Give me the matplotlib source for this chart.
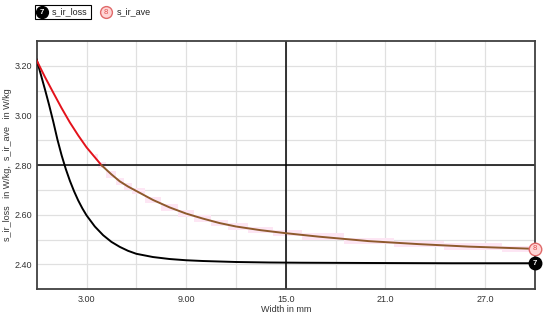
import matplotlib
matplotlib.use("Agg")
import matplotlib.pyplot as plt
import numpy as np

plt.rcParams['font.family'] = ['Liberation Sans', 'DejaVu Sans']

# data
width_loss = [0, 0.25, 0.5, 0.75, 1, 1.25, 1.5, 1.75, 2, 2.25, 2.5, 2.75, 3, 3.5, 4, 4.5,
              5, 5.5, 6, 7, 8, 9, 10, 11, 12, 14, 16, 20, 25, 30]
s_ir_loss = [3.225, 3.165, 3.105, 3.042, 2.975, 2.903, 2.840, 2.785, 2.737, 2.695, 2.658,
             2.626, 2.598, 2.553, 2.518, 2.491, 2.471, 2.455, 2.443, 2.430, 2.422, 2.417,
             2.414, 2.412, 2.410, 2.408, 2.407, 2.406, 2.405, 2.405]
width_ave = [0, 0.5, 1, 1.5, 2, 2.5, 3, 3.5, 3.9, 4.5, 5, 5.5, 6, 7, 8, 9, 10, 11, 12,
             13.5, 15, 17, 20, 23, 26, 30]
s_ir_ave = [3.222, 3.155, 3.092, 3.030, 2.972, 2.920, 2.872, 2.832, 2.800, 2.763, 2.735,
            2.714, 2.696, 2.660, 2.630, 2.605, 2.585, 2.567, 2.553, 2.538, 2.526, 2.512,
            2.494, 2.482, 2.472, 2.463]
red_split = 8  # index where the line turns from red to brown

xticks = [3, 9, 15, 21, 27]
xtick_labels = ["3.00", "9.00", "15.0", "21.0", "27.0"]
yticks = [2.40, 2.60, 2.80, 3.00, 3.20]
ytick_labels = ["2.40", "2.60", "2.80", "3.00", "3.20"]
legend_names = ["s_ir_loss", "s_ir_ave"]
legend_ids = ["7", "8"]

fig = plt.figure(figsize=(5.5, 3.16), dpi=100)
ax = fig.add_axes([0.0667, 0.0845, 0.906, 0.7855])
ax.set_xlim(0, 30)
ax.set_ylim(2.30, 3.30)

# grid
for gx in np.arange(3, 30, 3):
    ax.axvline(gx, color='#e0e0e0', lw=0.9, zorder=0)
for gy in np.arange(2.4, 3.3, 0.1):
    ax.axhline(gy, color='#e0e0e0', lw=0.9, zorder=0)

# crosshair
ax.axvline(15, color='black', lw=1.1, zorder=2)
ax.axhline(2.80, color='black', lw=1.1, zorder=2)

# pink highlight band
xa = np.array(width_ave[red_split - 1:])
ya = np.array(s_ir_ave[red_split - 1:])
ax.fill_between(xa, ya - 0.013, ya + 0.013, step='mid', color='#fde6f4', lw=0, zorder=1)

# curves
ax.plot(width_loss, s_ir_loss, color='black', lw=1.4, zorder=3)
ax.plot(width_ave[:red_split + 1], s_ir_ave[:red_split + 1], color='#e3121b', lw=1.4, zorder=3)
ax.plot(width_ave[red_split:], s_ir_ave[red_split:], color='#8e5a2c', lw=1.4, zorder=3)

# end markers
ax.plot([width_ave[-1]], [s_ir_ave[-1]], 'o', ms=9, mfc='#ffd6d6', mec='#e06a6a', mew=1.0,
        clip_on=False, zorder=5)
ax.text(width_ave[-1], s_ir_ave[-1], legend_ids[1], color='#e05050', fontsize=5.5,
        ha='center', va='center', zorder=6, clip_on=False)
ax.plot([width_loss[-1]], [s_ir_loss[-1]], 'o', ms=9, mfc='black', mec='black',
        clip_on=False, zorder=5)
ax.text(width_loss[-1], s_ir_loss[-1], legend_ids[0], color='white', fontsize=5.5,
        fontweight='bold', ha='center', va='center', zorder=6, clip_on=False)

# axes styling
for s in ax.spines.values():
    s.set_color('#404040')
    s.set_linewidth(1.3)
ax.set_xticks(xticks)
ax.set_xticklabels(xtick_labels)
ax.set_yticks(yticks)
ax.set_yticklabels(ytick_labels)
ax.tick_params(axis='x', length=0, labelsize=6.5, colors='#333333', pad=4)
ax.tick_params(axis='y', length=0, labelsize=6.5, colors='#333333', pad=3)
ax.set_xlabel("Width in mm", fontsize=6.5, color='#333333', labelpad=1)

# legend / labels in figure pixels
def fx(px):
    return px / 550.0

def fy(py):
    return 1 - py / 316.0

fig.text(fx(8), fy(165), "s_ir_loss   in W/kg,  s_ir_ave   in W/kg", rotation=90,
         fontsize=6.5, color='#333333', ha='center', va='center')

rect = plt.Rectangle((fx(35), fy(19)), fx(56), 14 / 316.0, transform=fig.transFigure,
                     fill=False, ec='black', lw=0.8)
fig.add_artist(rect)
fig.add_artist(matplotlib.lines.Line2D([fx(42)], [fy(12)], marker='o', ms=8.5, mfc='black',
                                       mec='black', transform=fig.transFigure))
fig.text(fx(42), fy(12), legend_ids[0], color='white', fontsize=5.5, fontweight='bold',
         ha='center', va='center')
fig.text(fx(52), fy(12), legend_names[0], fontsize=6.5, color='#222222', va='center')
fig.add_artist(matplotlib.lines.Line2D([fx(106)], [fy(12)], marker='o', ms=8.5, mfc='#ffd6d6',
                                       mec='#e06a6a', mew=1.0, transform=fig.transFigure))
fig.text(fx(106), fy(12), legend_ids[1], color='#e05050', fontsize=5.5,
         ha='center', va='center')
fig.text(fx(117), fy(12), legend_names[1], fontsize=6.5, color='#222222', va='center')

fig.savefig("out.png", dpi=100)
